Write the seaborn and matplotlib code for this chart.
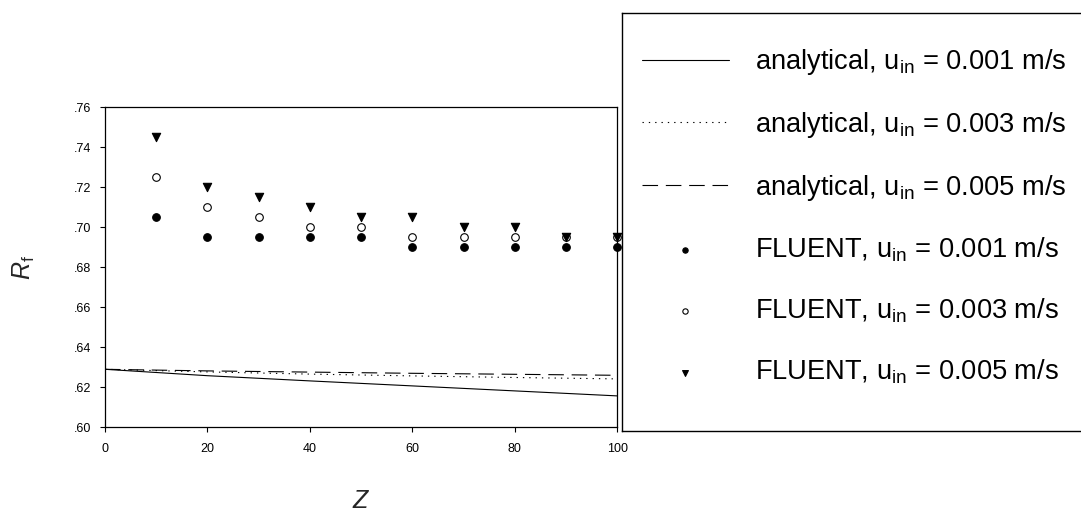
import matplotlib
matplotlib.use("Agg")
import matplotlib.pyplot as plt
from matplotlib.ticker import FuncFormatter
import seaborn as sns

# Axial position Z for the FLUENT samples
z_fluent = [10, 20, 30, 40, 50, 60, 70, 80, 90, 100]
fluent_001 = [0.705, 0.695, 0.695, 0.695, 0.695, 0.690, 0.690, 0.690, 0.690, 0.690]
fluent_003 = [0.725, 0.710, 0.705, 0.700, 0.700, 0.695, 0.695, 0.695, 0.695, 0.695]
fluent_005 = [0.745, 0.720, 0.715, 0.710, 0.705, 0.705, 0.700, 0.700, 0.695, 0.695]

# Analytical curves
z_analytic = [0, 20, 40, 60, 80, 100]
analytic_001 = [0.629, 0.6258, 0.6232, 0.6207, 0.6182, 0.6157]
analytic_003 = [0.629, 0.6277, 0.6266, 0.6257, 0.6249, 0.6242]
analytic_005 = [0.629, 0.6282, 0.6276, 0.6270, 0.6265, 0.6260]

labels_analytic = [
    r"analytical, $\mathrm{u}_\mathrm{in}$ = 0.001 m/s",
    r"analytical, $\mathrm{u}_\mathrm{in}$ = 0.003 m/s",
    r"analytical, $\mathrm{u}_\mathrm{in}$ = 0.005 m/s",
]
labels_fluent = [
    r"FLUENT, $\mathrm{u}_\mathrm{in}$ = 0.001 m/s",
    r"FLUENT, $\mathrm{u}_\mathrm{in}$ = 0.003 m/s",
    r"FLUENT, $\mathrm{u}_\mathrm{in}$ = 0.005 m/s",
]

x_ticks = [0, 20, 40, 60, 80, 100]
y_ticks = [0.60, 0.62, 0.64, 0.66, 0.68, 0.70, 0.72, 0.74, 0.76]

sns.set_style("ticks")
plt.rcParams["font.family"] = ["Liberation Sans", "DejaVu Sans"]
plt.rcParams["mathtext.fontset"] = "custom"
plt.rcParams["mathtext.rm"] = "Liberation Sans"
plt.rcParams["mathtext.it"] = "Liberation Sans:italic"
plt.rcParams["mathtext.bf"] = "Liberation Sans:bold"

W, H = 1081, 513
fig = plt.figure(figsize=(W / 100, H / 100), dpi=100)
fig.patch.set_facecolor("white")

ax = fig.add_axes([105 / W, 1 - 427.3 / H, (617.3 - 105) / W, (427.3 - 107.3) / H])

lw = 0.8
line_styles = ["-", (0, (1.2, 4.5)), (0, (14, 7))]
for y, ls, lab in zip([analytic_001, analytic_003, analytic_005], line_styles, labels_analytic):
    sns.lineplot(x=z_analytic, y=y, ax=ax, color="black", linewidth=lw,
                 linestyle=ls, label=lab, legend=False)

ms = 30
sns.scatterplot(x=z_fluent, y=fluent_001, ax=ax, marker="o", s=ms, color="black",
                edgecolor="black", linewidth=0.8, label=labels_fluent[0], legend=False,
                clip_on=False, zorder=3)
sns.scatterplot(x=z_fluent, y=fluent_003, ax=ax, marker="o", s=ms, color="white",
                edgecolor="black", linewidth=0.8, label=labels_fluent[1], legend=False,
                clip_on=False, zorder=3)
sns.scatterplot(x=z_fluent, y=fluent_005, ax=ax, marker="v", s=ms + 6, color="black",
                edgecolor="black", linewidth=0.8, label=labels_fluent[2], legend=False,
                clip_on=False, zorder=3)

ax.set_xlim(0, 100)
ax.set_ylim(0.60, 0.76)
ax.set_xticks(x_ticks)
ax.set_yticks(y_ticks)
ax.xaxis.set_major_formatter(FuncFormatter(lambda v, p: f"{v:g}"))
ax.yaxis.set_major_formatter(FuncFormatter(lambda v, p: f"{v:.2f}".lstrip("0")))
ax.tick_params(axis="both", direction="out", length=3.6, width=0.8, labelsize=9,
               color="black", labelcolor="black")
ax.tick_params(axis="y", pad=6.5)
ax.tick_params(axis="x", pad=7.5)
for sp in ax.spines.values():
    sp.set_visible(True)
    sp.set_color("black")
    sp.set_linewidth(0.9)
ax.set_facecolor("white")

ax.set_xlabel(r"$Z$", fontsize=18, labelpad=25)
ax.set_ylabel(r"$R_\mathrm{f}$", fontsize=18, labelpad=26)

# Legend panel to the right, drawn on top of the plot area
lax = fig.add_axes([622 / W, 1 - 431 / H, (1083 - 622) / W, (431 - 12.5) / H])
lax.set_zorder(5)
lax.set_facecolor("white")
lax.set_xticks([])
lax.set_yticks([])
for sp in lax.spines.values():
    sp.set_color("black")
    sp.set_linewidth(1.0)

handles, labels = ax.get_legend_handles_labels()
leg = lax.legend(handles, labels, loc="center left",
                 bbox_to_anchor=((641.7 - 622) / (1083 - 622), 0.5 + 5 / (431 - 12.5)),
                 frameon=False, fontsize=19.6, handlelength=3.2, handletextpad=0.95,
                 labelspacing=1.2, borderpad=0, borderaxespad=0, markerscale=0.7)
for t in leg.get_texts():
    t.set_color("black")

fig.savefig("out.png", dpi=100, facecolor="white")
